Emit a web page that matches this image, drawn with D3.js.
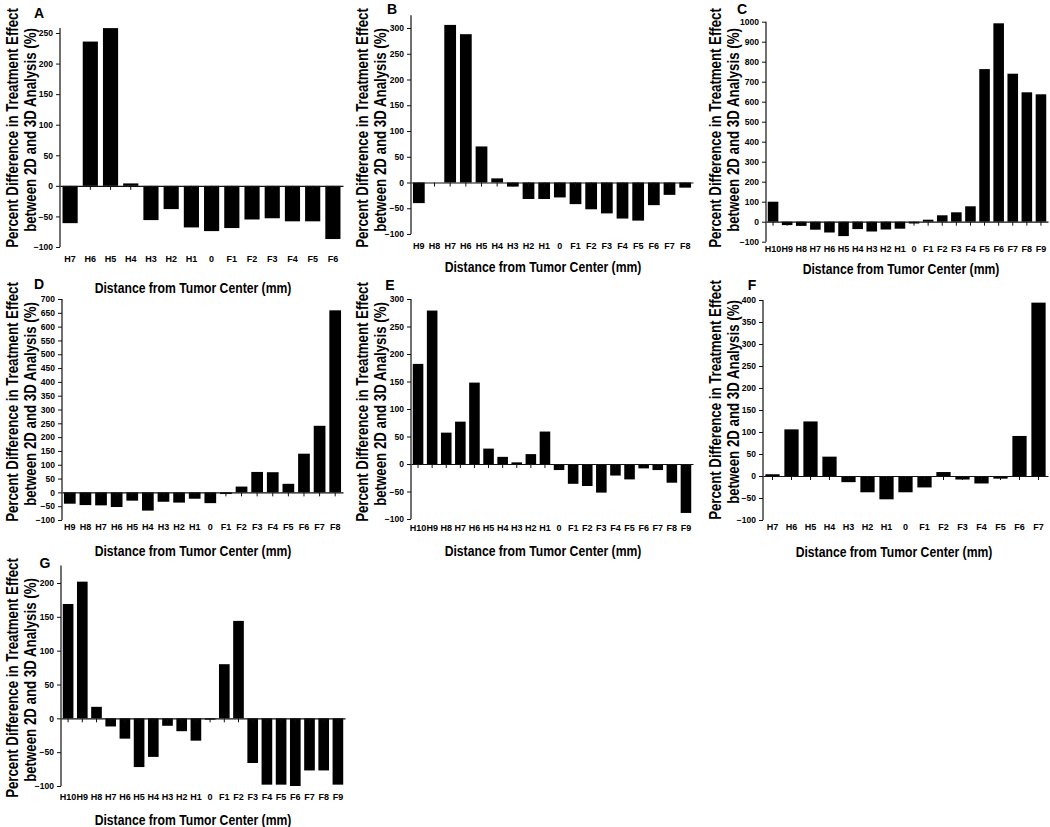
<!DOCTYPE html>
<html>
<head>
<meta charset="utf-8">
<script src="https://cdn.jsdelivr.net/npm/d3@7"></script>
<style>
  html, body { margin: 0; padding: 0; background: #fff; }
  svg { display: block; }
  text { font-family: "Liberation Sans", Arial, sans-serif; font-weight: bold; fill: #000; }
</style>
</head>
<body>
<svg id="chart" width="1050" height="827"></svg>
<script>
// ---------- DATA ----------
const catsA = ["H7","H6","H5","H4","H3","H2","H1","0","F1","F2","F3","F4","F5","F6"];
const valsA = [-61,236,258,4,-56,-38,-68,-74,-69,-55,-53,-58,-58,-87];
const ticksA = [-100,-50,0,50,100,150,200,250];

const catsB = ["H9","H8","H7","H6","H5","H4","H3","H2","H1","0","F1","F2","F3","F4","F5","F6","F7","F8"];
const valsB = [-40,0,306,288,70,8,-8,-32,-32,-29,-42,-52,-60,-70,-74,-44,-24,-10];
const ticksB = [-100,-50,0,50,100,150,200,250,300];

const catsC = ["H10","H9","H8","H7","H6","H5","H4","H3","H2","H1","0","F1","F2","F3","F4","F5","F6","F7","F8","F9"];
const valsC = [100,-17,-21,-40,-54,-72,-37,-49,-39,-35,-9,10,32,47,77,763,992,740,647,637];
const ticksC = [-100,0,100,200,300,400,500,600,700,800,900,1000];

const catsD = ["H9","H8","H7","H6","H5","H4","H3","H2","H1","0","F1","F2","F3","F4","F5","F6","F7","F8"];
const valsD = [-41,-46,-47,-53,-30,-66,-34,-37,-23,-39,-6,21,74,73,31,140,241,659];
const ticksD = [-100,-50,0,50,100,150,200,250,300,350,400,450,500,550,600,650,700];

const catsE = ["H10","H9","H8","H7","H6","H5","H4","H3","H2","H1","0","F1","F2","F3","F4","F5","F6","F7","F8","F9"];
const valsE = [182,279,57,77,148,28,13,3,18,59,-11,-36,-40,-52,-21,-28,-8,-11,-34,-89];
const ticksE = [-100,-50,0,50,100,150,200,250,300];

const catsF = ["H7","H6","H5","H4","H3","H2","H1","0","F1","F2","F3","F4","F5","F6","F7"];
const valsF = [4,106,124,44,-14,-37,-53,-37,-26,9,-8,-17,-6,91,394];
const ticksF = [-100,-50,0,50,100,150,200,250,300,350,400];

const catsG = ["H10","H9","H8","H7","H6","H5","H4","H3","H2","H1","0","F1","F2","F3","F4","F5","F6","F7","F8","F9"];
const valsG = [169,202,17,-12,-30,-72,-57,-11,-19,-33,-2,80,144,-66,-98,-98,-100,-77,-77,-98];
const ticksG = [-100,-50,0,50,100,150,200];

const panelLetters = ["A","B","C","D","E","F","G"];
const yTitle1 = "Percent Difference in Treatment Effect";
const yTitle2 = "between 2D and 3D Analysis (%)";
const xTitle = "Distance from Tumor Center (mm)";

// ---------- LAYOUT ----------
const panels = [
  {cats: catsA, vals: valsA, ticks: ticksA, x0: 60,  x1: 343,  yBot: 247, yTopTick: 33,  axisTop: 258,  lblY: 259, xtX: 193, xtY: 288, L: [39, 13],  ytX: [11, 29],   ytY: 128},
  {cats: catsB, vals: valsB, ticks: ticksB, x0: 411, x1: 693,  yBot: 234, yTopTick: 28,  axisTop: 325,  lblY: 246, xtX: 543, xtY: 267, L: [392, 9],  ytX: [361, 379], ytY: 128},
  {cats: catsC, vals: valsC, ticks: ticksC, x0: 766, x1: 1048, yBot: 241.7, yTopTick: 21.7, axisTop: 1000, lblY: 249, xtX: 901, xtY: 269, L: [742, 9],  ytX: [714, 732], ytY: 128},
  {cats: catsD, vals: valsD, ticks: ticksD, x0: 62,  x1: 343,  yBot: 520, yTopTick: 299, axisTop: 700,  lblY: 527, xtX: 193, xtY: 551, L: [39, 284], ytX: [11, 29],   ytY: 402},
  {cats: catsE, vals: valsE, ticks: ticksE, x0: 411, x1: 693,  yBot: 519, yTopTick: 299, axisTop: 300,  lblY: 528, xtX: 543, xtY: 551, L: [390, 285],ytX: [361, 379], ytY: 402},
  {cats: catsF, vals: valsF, ticks: ticksF, x0: 763, x1: 1048, yBot: 520, yTopTick: 300, axisTop: 400,  lblY: 527, xtX: 894, xtY: 552, L: [752, 285],ytX: [714, 732], ytY: 400},
  {cats: catsG, vals: valsG, ticks: ticksG, x0: 61,  x1: 345,  yBot: 786, yTopTick: 583, axisTop: 226,  lblY: 797, xtX: 193, xtY: 820, L: [45, 563], ytX: [11, 29],   ytY: 678}
];

const svg = d3.select("#chart");

// text squeezed along its direction to a target length
function squeezedText(parent, str, size, targetLen, x, y, rotate) {
  const t = parent.append("text")
    .attr("text-anchor", "middle").attr("dy", "0.35em")
    .style("font-size", size + "px").text(str);
  const natural = t.node().getComputedTextLength();
  const sx = natural > 0 ? targetLen / natural : 1;
  t.attr("transform", `translate(${x},${y})${rotate ? " rotate(-90)" : ""} scale(${sx},1)`);
  return t;
}

panels.forEach((p, i) => {
  const g = svg.append("g");
  const tickMax = p.ticks[p.ticks.length - 1];
  const y = d3.scaleLinear().domain([p.ticks[0], tickMax]).range([p.yBot, p.yTopTick]);
  const x = d3.scaleBand().domain(p.cats).range([p.x0, p.x1]).paddingInner(0.25).paddingOuter(0.125);

  // bars
  g.selectAll("rect.bar").data(p.cats.map((c, k) => ({c, v: p.vals[k]})))
    .join("rect")
    .attr("class", "bar")
    .attr("x", d => x(d.c))
    .attr("width", x.bandwidth())
    .attr("y", d => Math.min(y(d.v), y(0)))
    .attr("height", d => Math.abs(y(d.v) - y(0)))
    .attr("fill", "#000");

  // y axis
  const yAxis = d3.axisLeft(y).tickValues(p.ticks).tickSize(4).tickPadding(3).tickFormat(d3.format("d"));
  const ya = g.append("g").attr("transform", `translate(${p.x0},0)`).call(yAxis);
  ya.select(".domain").remove();
  ya.append("line").attr("x1", 0).attr("x2", 0)
    .attr("y1", p.yBot).attr("y2", y(p.axisTop))
    .attr("stroke", "#111").attr("stroke-width", 1.2);
  ya.selectAll(".tick line").attr("stroke", "#111");
  ya.selectAll(".tick text").style("font-size", "8.5px").style("font-family", "'Liberation Sans', Arial, sans-serif").style("font-weight", "bold").attr("fill", "#000");

  // x axis along zero line (ticks only)
  const xAxis = d3.axisBottom(x).tickSize(4).tickSizeOuter(0).tickFormat("");
  const xa = g.append("g").attr("transform", `translate(0,${y(0)})`).call(xAxis);
  xa.select(".domain").attr("stroke", "#111").attr("stroke-width", 1.2);
  xa.selectAll(".tick line").attr("stroke", "#111");

  // category labels at bottom
  const xl = g.append("g").attr("transform", `translate(0,${p.lblY})`)
    .call(d3.axisBottom(x).tickSize(0).tickPadding(0));
  xl.select(".domain").remove();
  xl.selectAll(".tick text")
    .attr("dy", "0.35em").attr("y", 0)
    .style("font-size", "9px").style("font-family", "'Liberation Sans', Arial, sans-serif").style("font-weight", "bold").attr("fill", "#000");

  // x title
  squeezedText(g, xTitle, 14, 197, p.xtX, p.xtY, false);

  // y titles
  squeezedText(g, yTitle1, 16, 240, p.ytX[0] + 1, p.ytY, true);
  squeezedText(g, yTitle2, 16, 204, p.ytX[1] + 1, p.ytY + 2, true);

  // panel letter
  g.append("text").attr("x", p.L[0]).attr("y", p.L[1]).attr("dy", "0.35em")
    .attr("text-anchor", "middle").style("font-size", "14px")
    .text(panelLetters[i]);
});
</script>
</body>
</html>
